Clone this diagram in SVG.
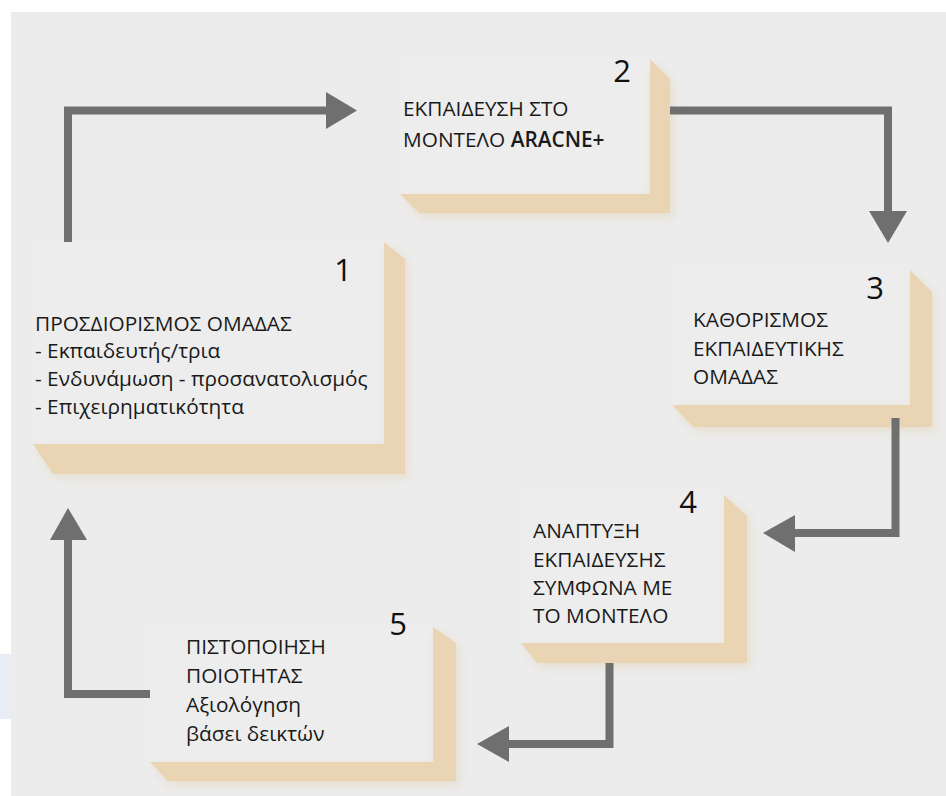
<svg xmlns="http://www.w3.org/2000/svg" width="946" height="796" viewBox="0 0 946 796">
<defs>
<style>
.face{fill:#ededed}
.tan{fill:#e9d4b3;filter:url(#sh)}
.t{font-family:"Open Sans","Noto Sans","DejaVu Sans",sans-serif;font-size:20.8px;fill:#1a1a1a}
.n{font-family:"Open Sans","Noto Sans","DejaVu Sans",sans-serif;font-size:31px;fill:#111;text-anchor:end}
.ln{fill:none;stroke:#6f6f6f;stroke-width:8;stroke-linejoin:miter}
.hd{fill:#6f6f6f}
</style>
<filter id="sh" x="-10%" y="-10%" width="130%" height="130%">
<feGaussianBlur in="SourceAlpha" stdDeviation="5" result="b"/>
<feOffset dx="3" dy="4" result="o"/>
<feFlood flood-color="#e3cfae" flood-opacity="0.5"/>
<feComposite in2="o" operator="in" result="s"/>
<feMerge><feMergeNode in="s"/><feMergeNode in="SourceGraphic"/></feMerge>
</filter>
<linearGradient id="gB" gradientUnits="userSpaceOnUse" x1="670" y1="0" x2="688" y2="0">
<stop offset="0" stop-color="#e2d3bd"/><stop offset="1" stop-color="#6f6f6f"/>
</linearGradient>
<linearGradient id="gD" gradientUnits="userSpaceOnUse" x1="0" y1="663" x2="0" y2="680">
<stop offset="0" stop-color="#e2d3bd"/><stop offset="1" stop-color="#6f6f6f"/>
</linearGradient>
</defs>
<rect x="0" y="0" width="946" height="796" fill="#ffffff"/>
<rect x="11" y="12" width="935" height="784" fill="#ececec"/>
<rect x="0" y="654" width="11" height="65" fill="#e8eef3"/>

<g id="node1">
<rect class="face" x="33" y="242" width="351" height="202"/>
<path class="tan" d="M384,242 L405,259 L405,474 L53,474 L33,444 L384,444 Z"/>
<text class="n" x="352" y="281">1</text>
<text class="t" x="35" y="331">ΠΡΟΣΔΙΟΡΙΣΜΟΣ ΟΜΑΔΑΣ</text>
<text class="t" x="35" y="358">- Εκπαιδευτής/τρια</text>
<text class="t" x="35" y="386">- Ενδυνάμωση - προσανατολισμός</text>
<text class="t" x="35" y="414">- Επιχειρηματικότητα</text>
</g>

<g id="node2">
<rect class="face" x="400" y="59" width="250" height="135"/>
<path class="tan" d="M650,59 L670,79 L670,213 L419,213 L400,194 L650,194 Z"/>
<text class="n" x="631" y="82">2</text>
<text class="t" x="403" y="116">ΕΚΠΑΙΔΕΥΣΗ ΣΤΟ</text>
<text class="t" x="403" y="147">ΜΟΝΤΕΛΟ <tspan font-weight="600">ARACNE+</tspan></text>
</g>

<g id="node3">
<rect class="face" x="672" y="270" width="238" height="135"/>
<path class="tan" d="M910,270 L932,292 L932,427 L693,427 L672,405 L910,405 Z"/>
<text class="n" x="884" y="299">3</text>
<text class="t" x="693" y="327">ΚΑΘΟΡΙΣΜΟΣ</text>
<text class="t" x="693" y="356">ΕΚΠΑΙΔΕΥΤΙΚΗΣ</text>
<text class="t" x="693" y="384">ΟΜΑΔΑΣ</text>
</g>

<g id="node4">
<rect class="face" x="521" y="495" width="203" height="148"/>
<path class="tan" d="M724,495 L747,516 L747,663 L537,663 L521,643 L724,643 Z"/>
<text class="n" x="697" y="513">4</text>
<text class="t" x="533" y="538">ΑΝΑΠΤΥΞΗ</text>
<text class="t" x="533" y="567">ΕΚΠΑΙΔΕΥΣΗΣ</text>
<text class="t" x="533" y="595">ΣΥΜΦΩΝΑ ΜΕ</text>
<text class="t" x="533" y="623">ΤΟ ΜΟΝΤΕΛΟ</text>
</g>

<g id="node5">
<rect class="face" x="150" y="627" width="283" height="135"/>
<path class="tan" d="M433,627 L456,643 L456,781 L168,781 L150,762 L433,762 Z"/>
<text class="n" x="407" y="635">5</text>
<text class="t" x="186" y="654">ΠΙΣΤΟΠΟΙΗΣΗ</text>
<text class="t" x="186" y="683">ΠΟΙΟΤΗΤΑΣ</text>
<text class="t" x="186" y="712">Αξιολόγηση</text>
<text class="t" x="186" y="741">βάσει δεικτών</text>
</g>

<g id="connectors">
<path class="ln" d="M68,242 V110.5 H328"/>
<polygon class="hd" points="326,92 357,110.5 326,129"/>
<path class="ln" d="M670,110.5 H888 V213" stroke="url(#gB)"/>
<polygon class="hd" points="869,211 907,211 888,243"/>
<path class="ln" d="M895.5,418 V533 H793"/>
<polygon class="hd" points="795,515 763,533 795,552"/>
<path class="ln" d="M609.5,663 V744 H507" stroke="url(#gD)"/>
<polygon class="hd" points="509,726 477,744 509,762"/>
<path class="ln" d="M150,694 H68 V538"/>
<polygon class="hd" points="50,540 68,508 87,540"/>
</g>
</svg>
